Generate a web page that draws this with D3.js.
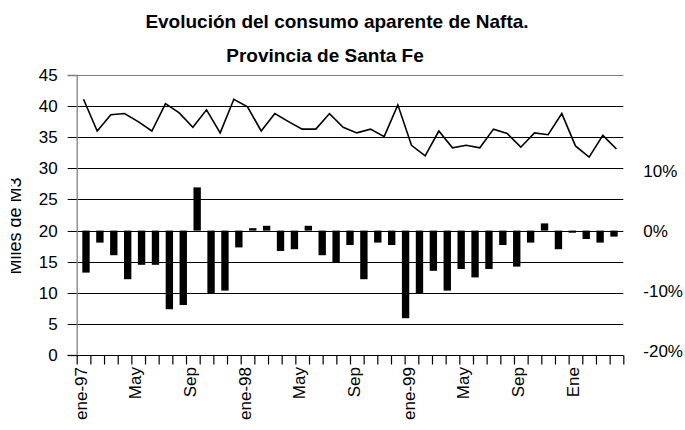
<!DOCTYPE html>
<html>
<head>
<meta charset="utf-8">
<script src="https://cdn.jsdelivr.net/npm/d3@7"></script>
<style>
  html, body { margin: 0; padding: 0; background: #fff; }
  svg { display: block; font-family: "Liberation Sans", Arial, sans-serif; }
</style>
</head>
<body>
<svg id="chart" width="685" height="430"></svg>
<script>
// ---- data ----
const categories = [
  "ene-97","feb-97","mar-97","abr-97","may-97","jun-97","jul-97","ago-97","sep-97","oct-97","nov-97","dic-97",
  "ene-98","feb-98","mar-98","abr-98","may-98","jun-98","jul-98","ago-98","sep-98","oct-98","nov-98","dic-98",
  "ene-99","feb-99","mar-99","abr-99","may-99","jun-99","jul-99","ago-99","sep-99","oct-99","nov-99","dic-99",
  "ene-00","feb-00","mar-00","abr-00"
];
// Consumo (miles de m3) - eje izquierdo
const consumo = [41.1, 36.0, 38.6, 38.8, 37.5, 36.0, 40.4, 38.9, 36.6, 39.4, 35.7, 41.1,
                 39.9, 36.0, 38.8, 37.5, 36.3, 36.3, 38.8, 36.6, 35.7, 36.3, 35.1, 40.2,
                 33.7, 32.0, 36.0, 33.3, 33.7, 33.3, 36.3, 35.6, 33.4, 35.7, 35.4, 38.8,
                 33.6, 31.8, 35.3, 33.1];
// Variación (%) - eje derecho (39 barras)
const variacion = [-7.0, -2.0, -4.1, -8.1, -5.7, -5.7, -13.1, -12.4, 7.2, -10.5, -10.0, -2.8,
                   0.4, 0.8, -3.4, -3.1, 0.8, -4.1, -5.35, -2.4, -8.1, -2.0, -2.4, -14.6,
                   -10.5, -6.7, -10.0, -6.4, -7.8, -6.4, -2.4, -6.0, -2.0, 1.2, -3.1, -0.35,
                   -1.4, -2.0, -1.0];
const barCategories = categories.slice(1);
const leftTicks = [0, 5, 10, 15, 20, 25, 30, 35, 40, 45];
const rightTicks = [0.10, 0.0, -0.10, -0.20];
const xTickLabels = ["ene-97","May","Sep","ene-98","May","Sep","ene-99","May","Sep","Ene"];
const titleLines = ["Evolución del consumo aparente de Nafta.", "Provincia de Santa Fe"];
const yTitle = "Miles de M3";

// ---- layout ----
const svg = d3.select("#chart");
const L = 76.7, R = 623.3, T = 75, B = 355;

const x = d3.scaleBand().domain(categories).range([L, R]);
const xTick = d3.scaleLinear().domain([0, categories.length]).range([L, R]);
const xBar = d3.scaleBand().domain(barCategories).range([L + 2.35, R - 2.35])
  .paddingInner(0.47).paddingOuter(0.235);
const yL = d3.scaleLinear().domain([0, 45]).range([B, T]);
const yR = d3.scaleLinear().domain([-0.2073, 0.2593]).range([B, T]);

// gridlines
svg.append("g").selectAll("line").data(leftTicks).join("line")
  .attr("x1", L - 9).attr("x2", R)
  .attr("y1", d => Math.round(yL(d)) + 0.5).attr("y2", d => Math.round(yL(d)) + 0.5)
  .attr("stroke", d => d === 45 ? "#808080" : "#000")
  .attr("stroke-width", 1);

// left axis
const gL = svg.append("g").attr("transform", `translate(${L},0)`)
  .call(d3.axisLeft(yL).tickValues(leftTicks).tickSize(9).tickPadding(10));
gL.select(".domain").attr("stroke", "#808080").attr("stroke-width", 1.3);
gL.selectAll(".tick line").remove();
gL.selectAll("text").attr("font-size", 17).attr("fill", "#000")
  .attr("font-family", "'Liberation Sans', Arial, sans-serif");

// right axis (labels only)
const gR = svg.append("g").attr("transform", `translate(${R},0)`)
  .call(d3.axisRight(yR).tickValues(rightTicks).tickSize(0).tickPadding(20)
    .tickFormat(d => Math.round(d * 100) + "%"));
gR.select(".domain").remove();
gR.selectAll("text").attr("font-size", 17).attr("fill", "#000")
  .attr("font-family", "'Liberation Sans', Arial, sans-serif");

// bars
svg.append("g").selectAll("rect").data(variacion).join("rect")
  .attr("x", (d, i) => xBar(barCategories[i]))
  .attr("width", xBar.bandwidth())
  .attr("y", d => yR(Math.max(0, d / 100)))
  .attr("height", d => Math.abs(yR(d / 100) - yR(0)))
  .attr("fill", "#000");

// bottom axis with ticks between categories
const gB = svg.append("g").attr("transform", `translate(0,${Math.round(B) + 0.5})`)
  .call(d3.axisBottom(xTick).tickValues(d3.range(0, categories.length + 1)).tickSize(9).tickFormat(""));
gB.select(".domain").remove();
gB.selectAll(".tick line").attr("stroke", "#000").attr("stroke-width", 1.2);
svg.append("line").attr("x1", L - 9).attr("x2", R)
  .attr("y1", Math.round(B) + 0.5).attr("y2", Math.round(B) + 0.5)
  .attr("stroke", "#000").attr("stroke-width", 1.2);

// x labels (every 4th category)
svg.append("g").selectAll("text").data(xTickLabels).join("text")
  .attr("transform", (d, i) => {
    const c = categories[i * 4];
    return `translate(${x(c) + x.bandwidth() / 2},367) rotate(-90)`;
  })
  .attr("text-anchor", "end")
  .attr("dy", "0.18em")
  .attr("font-size", 17)
  .text(d => d);

// line
svg.append("path").datum(consumo)
  .attr("fill", "none").attr("stroke", "#000").attr("stroke-width", 1.6)
  .attr("stroke-linejoin", "miter")
  .attr("d", d3.line()
    .x((d, i) => x(categories[i]) + x.bandwidth() / 2)
    .y(d => yL(d)));

// title
const titleX = [337, 325];
const titleY = [27.5, 61.5];
svg.append("g").selectAll("text").data(titleLines).join("text")
  .attr("x", (d, i) => titleX[i]).attr("y", (d, i) => titleY[i])
  .attr("text-anchor", "middle")
  .attr("font-weight", "bold").attr("font-size", 19)
  .text(d => d);

// y title (its top edge is clipped in the original)
svg.append("clipPath").attr("id", "ytclip")
  .append("rect").attr("x", 11).attr("y", 0).attr("width", 40).attr("height", 430);
svg.append("g").attr("clip-path", "url(#ytclip)")
  .append("text")
  .attr("transform", "translate(21,226) rotate(-90)")
  .attr("text-anchor", "middle")
  .attr("font-size", 18)
  .text(yTitle);
</script>
</body>
</html>
